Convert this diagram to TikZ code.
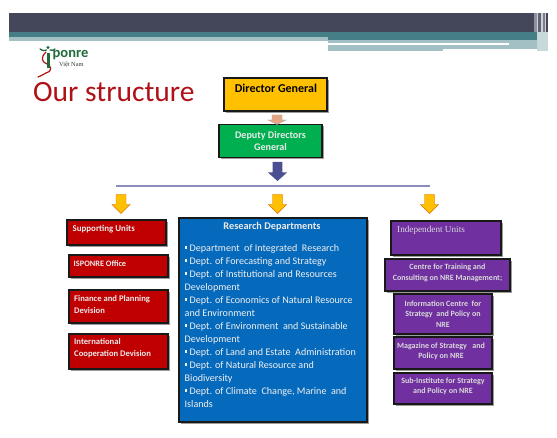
\documentclass[tikz,border=0pt]{standalone}
\usepackage{fontspec}
\setmainfont{Carlito}
\newfontfamily\serifunit{Liberation Serif}
\usetikzlibrary{calc,shadows}
\definecolor{cDark}{HTML}{44475A}
\definecolor{cTeal}{HTML}{467E87}
\definecolor{cLight}{HTML}{A3C0C5}
\definecolor{cYellow}{HTML}{FFC000}
\definecolor{cGreen}{HTML}{00B050}
\definecolor{cRed}{HTML}{C00000}
\definecolor{cBlue}{HTML}{0569BC}
\definecolor{cPurple}{HTML}{7030A0}
\definecolor{cLine}{HTML}{8C8CBC}
\definecolor{cTitle}{HTML}{B01116}
\definecolor{cLogo}{HTML}{1F6B3A}
\definecolor{cArrowBlue}{HTML}{4A5090}
\definecolor{cSalmon}{HTML}{E6A583}
\tikzset{
  orgbox/.style={draw=black!90,line width=1.15pt,drop shadow={shadow xshift=1.6pt,shadow yshift=-1.6pt,opacity=.6,fill=black!65},inner sep=0pt,outer sep=0pt},
  lbl/.style={inner sep=0pt,font=\fontsize{8.9}{12}\selectfont\bfseries,text=white!92!black},
  plbl/.style={inner sep=0pt,font=\fontsize{8}{10.5}\selectfont\bfseries,text=white!85!black,align=center},
  yarrow/.style={fill=cYellow,draw=orange!85!black,line width=.4pt},
  sarrow/.style={fill=cSalmon,draw=gray!70,line width=.4pt},
  barrow/.style={fill=cArrowBlue,draw=none}
}
\newcommand{\blockarrow}[6]{% style, from, to, half shaft, half head, head length
  \path[#1] ($(#2)+(-#4,0)$) -- ($(#3 -| #2)+(-#4,-#6)$) -- ($(#3 -| #2)+(-#5,-#6)$) -- (#3 -| #2)
    -- ($(#3 -| #2)+(#5,-#6)$) -- ($(#3 -| #2)+(#4,-#6)$) -- ($(#2)+(#4,0)$) -- cycle;}
\newcommand{\bul}{\rule[2.6pt]{2.6pt}{2.8pt}\hspace{2.4pt}}
\begin{document}
\begin{tikzpicture}[x=1pt,y=-1pt]
\useasboundingbox (0,0) rectangle (557,438);
\fill[white] (0,0) rectangle (557,438);
% header band
\fill[cLight] (328,40.5) rectangle (443,51.5);
\fill[cLight] (443,40.5) rectangle (509,49.5);
\fill[cLight] (509,40.5) rectangle (537,49);
\fill[white] (328,42.7) rectangle (509,45.3);
\fill[cLight] (9,37.5) rectangle (328,41);
\fill[cTeal] (9,32) rectangle (328,37.5);
\fill[cTeal] (328,32) rectangle (537,40.5);
\fill[cDark] (9,13) rectangle (537,32);
\fill[cDark!60] (534,13) rectangle (537,32);
\fill[cLight!60] (537,32) rectangle (548,51.5);
\fill[cDark!85] (538,13) rectangle (541,32);
\fill[cDark!70] (543,13) rectangle (545,32);
\fill[cDark] (546,13) rectangle (548,32);
\fill[cDark!25] (537,13) rectangle (538,51.5);
\fill[cDark!25] (541,13) rectangle (543,32);
\fill[cDark!25] (545,13) rectangle (546,32);
% logo
\draw[cTitle,line width=1.2pt,line cap=round] (46,52) .. controls (40,58) and (42,62) .. (47,64) .. controls (52,66) and (52,72) .. (46,73) .. controls (43,75) and (40,76) .. (38,77);
\fill[cLogo] (46.5,53) rectangle (49.5,68);
\draw[cLogo,line width=1.3pt,line cap=round] (40,49) .. controls (43,51) and (45,51) .. (46.5,50);
\draw[cLogo,line width=1.3pt,line cap=round] (50,50) .. controls (52,51) and (54,50) .. (55,49);
\fill[cLogo] (48,47.5) circle (1.6);
\node[inner sep=0pt,anchor=west,text=cLogo,font=\fontsize{14.5}{14.5}\selectfont\bfseries] (logotext) at (52.5,55) {ponre};
\node[inner sep=0pt,anchor=west,text=black!80,font=\fontsize{6.3}{7}\selectfont\serifunit] (logosub) at (59,64.5) {Việt Nam};
\node[inner sep=0pt,anchor=base west,text=cTitle,font=\fontsize{29.5}{32}\selectfont] (title) at (33,102) {Our structure};
% top boxes
\node[orgbox,fill=cYellow,minimum width=103pt,minimum height=33pt] (director) at (275.5,94.5) {};
\node[inner sep=0pt,font=\fontsize{12}{13}\selectfont\bfseries] (directorl) at (276,88) {Director General};
\node[orgbox,fill=cGreen,minimum width=103pt,minimum height=33pt,text=white!92!black,align=center,font=\fontsize{10.1}{12.5}\selectfont\bfseries] (deputy) at (270.5,141) {Deputy Directors\\General};
\coordinate (a1s) at (277,115);
\coordinate (a1e) at (277,124.5);
\blockarrow{sarrow}{a1s}{a1e}{5}{9}{4.5}
\coordinate (a2s) at (277.5,162);
\coordinate (a2e) at (277.5,181);
\blockarrow{barrow}{a2s}{a2e}{4.8}{9.5}{8.5}
% rule
\coordinate (ruleL) at (116,186);
\coordinate (ruleR) at (430,186);
\draw[cLine,line width=1.1pt] (ruleL) -- (ruleR);
% yellow arrows
\coordinate (y1s) at (121,194.5);
\coordinate (y1e) at (121,213.5);
\coordinate (y2s) at (277.5,194.5);
\coordinate (y2e) at (277.5,213.5);
\coordinate (y3s) at (429.5,194.5);
\coordinate (y3e) at (429.5,213.5);
\blockarrow{yarrow}{y1s}{y1e}{5}{9}{9}
\blockarrow{yarrow}{y2s}{y2e}{5}{9}{9}
\blockarrow{yarrow}{y3s}{y3e}{5}{9}{9}
% red column
\node[orgbox,fill=cRed,minimum width=99pt,minimum height=25pt] (support) at (116.5,232.5) {};
\node[lbl,anchor=base west] (supportl) at (72.5,231.5) {Supporting Units};
\node[orgbox,fill=cRed,minimum width=99pt,minimum height=22pt] (office) at (118.5,266) {};
\node[lbl,anchor=base west,font=\fontsize{8.3}{12}\selectfont\bfseries] (officel) at (73.5,266.5) {ISPONRE Office};
\node[orgbox,fill=cRed,minimum width=99pt,minimum height=33pt] (finance) at (118.5,306.5) {};
\node[lbl,anchor=north west,align=left,font=\fontsize{8.6}{11.8}\selectfont\bfseries] (financel) at (74,295) {Finance and Planning\\Devision};
\node[orgbox,fill=cRed,minimum width=99pt,minimum height=35pt] (intl) at (118.5,351.5) {};
\node[lbl,anchor=north west,align=left,font=\fontsize{8.6}{11.8}\selectfont\bfseries] (intll) at (74,338.5) {International\\Cooperation Devision};
% blue box
\node[orgbox,fill=cBlue,minimum width=188pt,minimum height=204pt] (research) at (273,320) {};
\node[lbl,font=\fontsize{10.3}{12}\selectfont\bfseries] (researchl) at (272,227) {Research Departments};
\node[inner sep=0pt,anchor=north west,align=left,text=white!94!black,font=\fontsize{10.1}{13}\selectfont] (researchd) at (184.5,244) {\bul Department~ of Integrated~ Research\\
\bul Dept. of Forecasting and Strategy\\
\bul Dept. of Institutional and Resources\\
Development\\
\bul Dept. of Economics of Natural Resource\\
and Environment\\
\bul Dept. of Environment~ and Sustainable\\
Development\\
\bul Dept. of Land and Estate~ Administration\\
\bul Dept. of Natural Resource and\\
Biodiversity\\
\bul Dept. of Climate~ Change, Marine~ and\\
Islands};
% purple column
\node[orgbox,fill=cPurple,minimum width=110pt,minimum height=34pt] (indep) at (446,238) {};
\node[inner sep=0pt,anchor=base west,text=white!85!black,font=\fontsize{9.2}{12}\selectfont\serifunit] (indepl) at (397,232.5) {Independent Units};
\node[orgbox,fill=cPurple,minimum width=125pt,minimum height=32pt] (training) at (447.5,275) {};
\node[plbl] (trainingl) at (447.5,272.7) {Centre for Training and\\Consulting on NRE Management;};
\node[orgbox,fill=cPurple,minimum width=98pt,minimum height=40pt,plbl] (info) at (443,314) {Information Centre~ for\\Strategy~ and Policy on\\NRE};
\node[orgbox,fill=cPurple,minimum width=98pt,minimum height=32pt] (magazine) at (443,353) {};
\node[plbl] (magazinel) at (441,351.2) {Magazine of Strategy~ ~and\\Policy on NRE};
\node[orgbox,fill=cPurple,minimum width=98pt,minimum height=31pt] (subinst) at (443,388.5) {};
\node[plbl] (subinstl) at (443,386.3) {Sub-Institute for Strategy\\and Policy on NRE};
\end{tikzpicture}
\end{document}
